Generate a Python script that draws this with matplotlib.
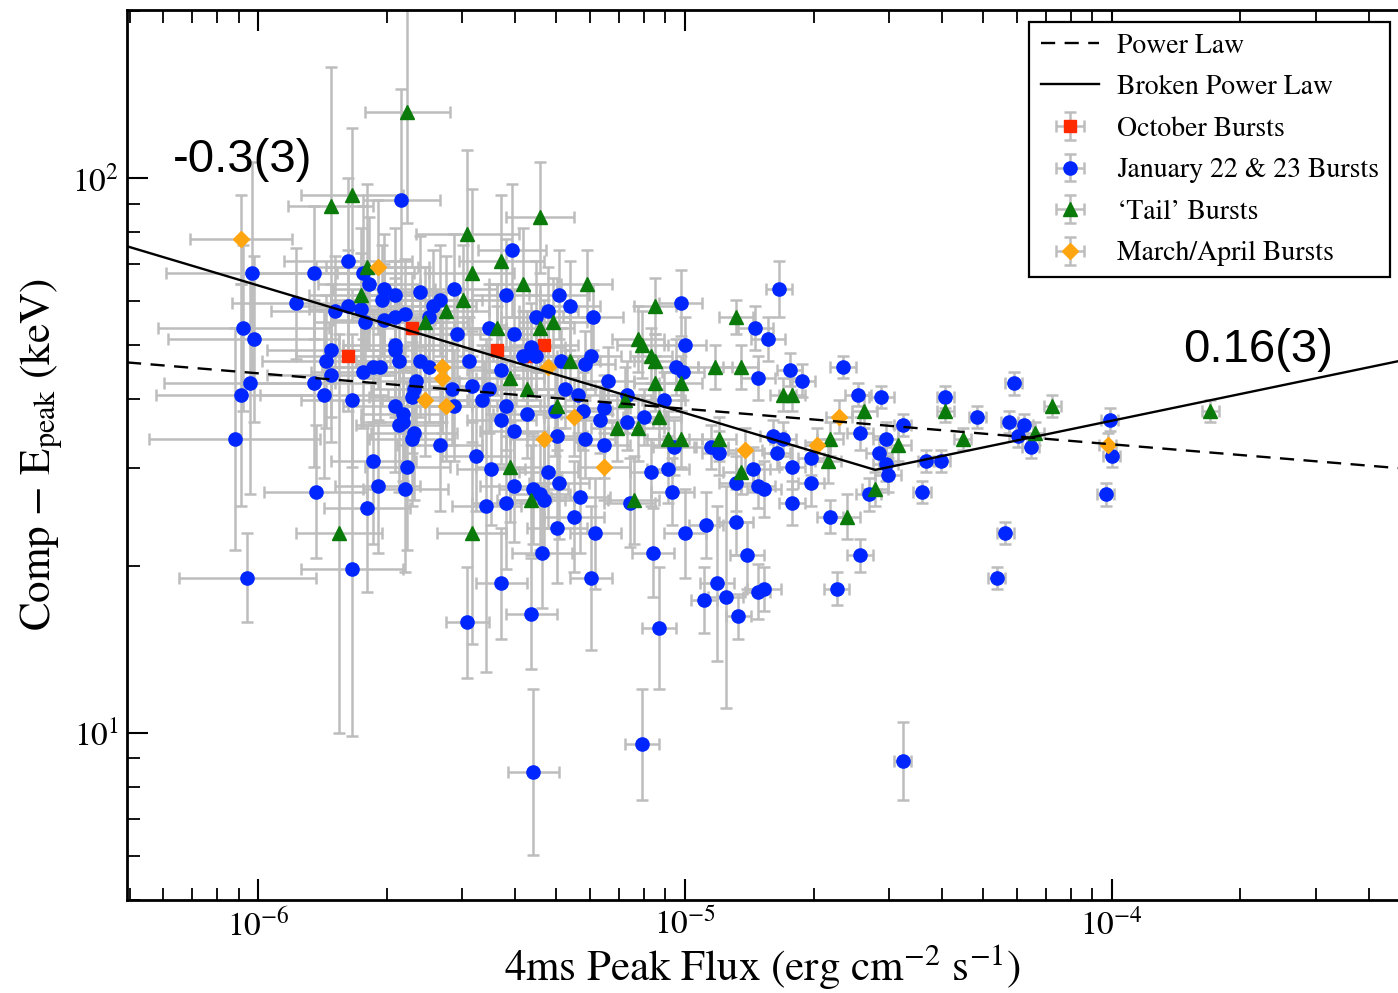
import numpy as np
import matplotlib.pyplot as plt
from matplotlib.ticker import LogLocator, NullFormatter

plt.rcParams['font.family'] = ['STIXGeneral', 'DejaVu Serif']
plt.rcParams['mathtext.fontset'] = 'stix'

# log10 of 4ms peak flux (erg cm^-2 s^-1), log10 of Comp Epeak (keV), errors in dex
oct_logf = [-5.64, -5.79, -5.44, -5.33, -5.37]
oct_logE = [1.73, 1.68, 1.69, 1.70, 1.68]
oct_df = [0.10, 0.12, 0.08, 0.08, 0.08]
oct_dE = [0.10, 0.10, 0.08, 0.08, 0.08]

jan_logf = [
    -5.665, -5.405, -6.015, -5.79, -5.87, -5.74, -5.705, -5.91, -5.71, -5.68,
    -5.62, -5.54, -5.42, -5.295, -5.27, -5.215, -5.01, -4.78, -5.35, -5.32,
    -4.835, -5.00, -4.805, -5.755, -5.82, -5.79, -5.76, -5.59, -5.575, -5.75,
    -5.705, -5.68, -5.655, -5.60, -5.535, -5.46, -5.40, -5.38, -5.36, -5.35,
    -6.035, -6.01, -5.68, -5.68, -5.83, -5.73, -5.715, -5.67, -5.62, -5.60,
    -5.505, -5.29, -5.84, -5.83, -5.755, -6.02, -6.04, -5.87, -5.845, -5.78,
    -5.68, -5.635, -5.63, -5.64, -5.54, -5.50, -5.475, -5.46, -5.42, -5.37,
    -5.305, -5.545, -5.22, -5.235, -5.18, -5.28, -5.25, -5.135, -5.43, -5.43,
    -5.02, -5.005, -4.83, -5.05, -5.19, -5.24, -5.20, -5.66, -5.66, -5.635,
    -5.575, -5.40, -6.055, -5.67, -5.64, -5.49, -5.095, -5.135, -5.025, -4.94,
    -4.92, -4.795, -4.785, -5.19, -5.235, -5.30, -4.725, -4.755, -4.63, -4.595,
    -4.54, -4.39, -4.23, -4.315, -4.24, -4.205, -4.22, -4.19, -4.005, -4.00,
    -4.49, -4.53, -4.59, -4.545, -4.53, -4.525, -4.435, -4.40, -4.445, -4.57,
    -4.705, -4.77, -4.75, -4.705, -4.75, -4.66, -4.815, -4.815, -4.645, -4.59,
    -4.25, -4.27, -4.015, -4.84, -4.88, -4.83, -5.08, -5.04, -5.03, -5.13,
    -5.455, -5.40, -5.355, -5.33, -5.465, -5.42, -5.32, -5.295, -5.245, -5.26,
    -5.30, -5.21, -5.335, -5.075, -5.00, -4.95, -4.88, -4.855, -5.22, -4.925,
    -4.83, -4.955, -4.905, -4.875, -5.43, -5.51, -5.36, -5.06, -5.10, -5.355,
    -4.49, -6.025, -5.78, -5.865, -5.745, -5.73, -5.72, -5.655, -5.65, -5.34,
]
jan_logE = [
    1.96, 1.87, 1.83, 1.85, 1.83, 1.81, 1.80, 1.775, 1.78, 1.79,
    1.795, 1.80, 1.79, 1.79, 1.77, 1.75, 1.775, 1.80, 1.75, 1.76,
    1.73, 1.70, 1.71, 1.83, 1.76, 1.77, 1.765, 1.77, 1.78, 1.74,
    1.745, 1.75, 1.755, 1.75, 1.72, 1.73, 1.72, 1.68, 1.695, 1.68,
    1.73, 1.71, 1.70, 1.69, 1.69, 1.66, 1.66, 1.67, 1.67, 1.66,
    1.67, 1.67, 1.67, 1.645, 1.65, 1.63, 1.61, 1.63, 1.61, 1.60,
    1.59, 1.62, 1.635, 1.605, 1.59, 1.625, 1.60, 1.62, 1.59, 1.575,
    1.58, 1.62, 1.68, 1.665, 1.635, 1.62, 1.61, 1.61, 1.655, 1.565,
    1.66, 1.65, 1.64, 1.60, 1.585, 1.58, 1.565, 1.575, 1.56, 1.54,
    1.52, 1.545, 1.53, 1.555, 1.53, 1.50, 1.57, 1.56, 1.515, 1.515,
    1.505, 1.535, 1.505, 1.52, 1.53, 1.535, 1.635, 1.655, 1.66, 1.61,
    1.605, 1.605, 1.63, 1.57, 1.56, 1.555, 1.535, 1.515, 1.565, 1.50,
    1.555, 1.53, 1.54, 1.505, 1.485, 1.465, 1.49, 1.49, 1.435, 1.43,
    1.495, 1.53, 1.48, 1.45, 1.415, 1.39, 1.44, 1.26, 1.26, 1.32,
    1.36, 1.28, 1.43, 1.475, 1.45, 1.445, 1.47, 1.475, 1.435, 1.415,
    1.475, 1.445, 1.44, 1.42, 1.41, 1.415, 1.47, 1.45, 1.425, 1.39,
    1.37, 1.36, 1.325, 1.325, 1.36, 1.375, 1.38, 1.32, 1.28, 1.27,
    1.255, 1.24, 1.245, 1.21, 1.27, 1.20, 1.215, 1.19, 0.98, 0.93,
    0.95, 1.28, 1.295, 1.435, 1.405, 1.49, 1.445, 1.44, 1.48, 1.43,
]
jan_df = [
    0.09, 0.08, 0.20, 0.15, 0.15, 0.12, 0.12, 0.15, 0.12, 0.10,
    0.10, 0.10, 0.08, 0.07, 0.07, 0.07, 0.05, 0.03, 0.08, 0.07,
    0.04, 0.05, 0.04, 0.12, 0.15, 0.12, 0.12, 0.10, 0.10, 0.12,
    0.12, 0.10, 0.10, 0.10, 0.10, 0.08, 0.08, 0.08, 0.08, 0.08,
    0.20, 0.20, 0.12, 0.12, 0.15, 0.12, 0.12, 0.10, 0.10, 0.10,
    0.10, 0.07, 0.15, 0.15, 0.12, 0.20, 0.20, 0.15, 0.15, 0.12,
    0.12, 0.10, 0.10, 0.10, 0.10, 0.10, 0.08, 0.08, 0.08, 0.08,
    0.07, 0.10, 0.07, 0.07, 0.06, 0.07, 0.07, 0.06, 0.08, 0.08,
    0.05, 0.05, 0.04, 0.05, 0.06, 0.07, 0.06, 0.10, 0.10, 0.10,
    0.10, 0.08, 0.20, 0.10, 0.10, 0.08, 0.05, 0.06, 0.05, 0.04,
    0.04, 0.03, 0.03, 0.06, 0.07, 0.07, 0.03, 0.03, 0.03, 0.03,
    0.03, 0.02, 0.02, 0.02, 0.02, 0.02, 0.02, 0.02, 0.02, 0.02,
    0.02, 0.03, 0.03, 0.03, 0.03, 0.03, 0.02, 0.02, 0.02, 0.03,
    0.03, 0.03, 0.03, 0.03, 0.03, 0.03, 0.04, 0.04, 0.03, 0.03,
    0.02, 0.02, 0.02, 0.04, 0.04, 0.04, 0.05, 0.05, 0.05, 0.06,
    0.08, 0.08, 0.08, 0.07, 0.08, 0.08, 0.07, 0.07, 0.07, 0.07,
    0.07, 0.06, 0.07, 0.05, 0.05, 0.04, 0.04, 0.04, 0.05, 0.04,
    0.03, 0.03, 0.04, 0.03, 0.06, 0.05, 0.06, 0.04, 0.04, 0.06,
    0.02, 0.16, 0.12, 0.12, 0.10, 0.10, 0.10, 0.10, 0.10, 0.07,
]
jan_dE = [
    0.20, 0.12, 0.20, 0.15, 0.12, 0.12, 0.10, 0.10, 0.10, 0.12,
    0.10, 0.10, 0.10, 0.08, 0.08, 0.06, 0.06, 0.05, 0.10, 0.08,
    0.04, 0.05, 0.04, 0.12, 0.10, 0.10, 0.10, 0.10, 0.10, 0.10,
    0.10, 0.10, 0.10, 0.08, 0.08, 0.08, 0.08, 0.08, 0.08, 0.08,
    0.15, 0.15, 0.12, 0.12, 0.12, 0.10, 0.10, 0.10, 0.10, 0.10,
    0.08, 0.06, 0.12, 0.12, 0.10, 0.20, 0.20, 0.15, 0.15, 0.12,
    0.12, 0.10, 0.10, 0.10, 0.10, 0.10, 0.10, 0.08, 0.08, 0.08,
    0.08, 0.10, 0.06, 0.06, 0.06, 0.07, 0.07, 0.06, 0.08, 0.08,
    0.05, 0.05, 0.04, 0.05, 0.06, 0.07, 0.06, 0.12, 0.12, 0.12,
    0.12, 0.10, 0.20, 0.12, 0.12, 0.10, 0.05, 0.05, 0.05, 0.04,
    0.04, 0.03, 0.03, 0.06, 0.07, 0.07, 0.03, 0.03, 0.02, 0.02,
    0.02, 0.02, 0.02, 0.02, 0.02, 0.02, 0.02, 0.02, 0.02, 0.02,
    0.02, 0.03, 0.03, 0.03, 0.03, 0.03, 0.02, 0.02, 0.02, 0.03,
    0.03, 0.03, 0.04, 0.04, 0.04, 0.03, 0.05, 0.04, 0.03, 0.03,
    0.02, 0.02, 0.02, 0.04, 0.05, 0.04, 0.06, 0.06, 0.06, 0.08,
    0.10, 0.10, 0.10, 0.10, 0.30, 0.12, 0.10, 0.10, 0.10, 0.10,
    0.10, 0.10, 0.10, 0.08, 0.08, 0.06, 0.06, 0.06, 0.13, 0.14,
    0.05, 0.06, 0.20, 0.04, 0.10, 0.10, 0.10, 0.11, 0.10, 0.15,
    0.07, 0.08, 0.30, 0.12, 0.15, 0.15, 0.12, 0.15, 0.15, 0.10,
]

tail_logf = [
    -5.65, -5.78, -5.83, -5.51, -5.34, -5.43, -5.38, -5.50, -5.745, -5.76,
    -5.52, -5.56, -5.61, -5.44, -5.34, -5.31, -5.41, -5.37, -5.27, -5.30,
    -5.23, -5.07, -4.88, -5.11, -5.10, -5.08, -5.07, -4.93, -4.87, -5.01,
    -5.07, -5.06, -5.16, -5.11, -5.04, -5.01, -4.92, -4.87, -5.14, -5.41,
    -5.36, -5.12, -5.81, -5.50, -4.77, -4.75, -4.39, -4.14, -4.18, -4.35,
    -3.77, -4.555, -4.50, -4.58, -4.66, -4.665, -4.62,
]
tail_logE = [
    2.12, 1.97, 1.95, 1.90, 1.93, 1.85, 1.81, 1.83, 1.84, 1.79,
    1.78, 1.76, 1.74, 1.73, 1.73, 1.74, 1.64, 1.62, 1.67, 1.59,
    1.81, 1.77, 1.75, 1.71, 1.70, 1.68, 1.67, 1.66, 1.66, 1.63,
    1.63, 1.57, 1.55, 1.55, 1.53, 1.53, 1.53, 1.47, 1.60, 1.48,
    1.42, 1.42, 1.36, 1.36, 1.61, 1.61, 1.58, 1.59, 1.54, 1.53,
    1.58, 1.44, 1.52, 1.58, 1.53, 1.49, 1.39,
]
tail_df = [
    0.10, 0.12, 0.10, 0.12, 0.08, 0.10, 0.08, 0.10, 0.12, 0.12,
    0.10, 0.10, 0.10, 0.08, 0.08, 0.08, 0.08, 0.08, 0.07, 0.07,
    0.06, 0.05, 0.04, 0.06, 0.06, 0.05, 0.05, 0.04, 0.04, 0.05,
    0.05, 0.05, 0.06, 0.06, 0.05, 0.05, 0.04, 0.04, 0.06, 0.08,
    0.08, 0.06, 0.10, 0.08, 0.03, 0.03, 0.02, 0.02, 0.02, 0.02,
    0.02, 0.03, 0.03, 0.03, 0.03, 0.03, 0.03,
]
tail_dE = [
    0.20, 0.12, 0.25, 0.15, 0.10, 0.12, 0.10, 0.15, 0.15, 0.12,
    0.10, 0.10, 0.10, 0.08, 0.08, 0.08, 0.08, 0.08, 0.07, 0.08,
    0.06, 0.05, 0.03, 0.06, 0.06, 0.05, 0.05, 0.04, 0.04, 0.05,
    0.05, 0.05, 0.06, 0.06, 0.05, 0.05, 0.04, 0.04, 0.06, 0.10,
    0.10, 0.08, 0.36, 0.20, 0.03, 0.03, 0.02, 0.02, 0.02, 0.02,
    0.02, 0.03, 0.03, 0.03, 0.03, 0.04, 0.04,
]

mar_logf = [-6.04, -5.72, -5.57, -5.57, -5.61, -5.56, -5.32, -5.33, -5.26, -5.19,
            -4.86, -4.69, -4.64, -4.01]
mar_logE = [1.89, 1.84, 1.66, 1.64, 1.60, 1.59, 1.66, 1.53, 1.57, 1.48,
            1.51, 1.52, 1.57, 1.52]
mar_df = [0.12, 0.12, 0.10, 0.10, 0.10, 0.10, 0.08, 0.08, 0.07, 0.06,
          0.04, 0.03, 0.03, 0.02]
mar_dE = [0.08, 0.12, 0.10, 0.10, 0.10, 0.10, 0.08, 0.08, 0.07, 0.06,
          0.04, 0.03, 0.03, 0.02]

# fits: power law and broken power law
pl_amp, pl_pivot, pl_index = 38.4, 1e-5, -0.064
bpl_fbreak, bpl_ebreak, bpl_index1, bpl_index2 = 2.79e-5, 29.8, -0.23, 0.16

xmin, xmax = 10**-6.307, 10**-3.33
ymin, ymax = 5.0, 201.0


def errs(logv, dlog):
    logv = np.array(logv)
    dlog = np.array(dlog)
    v = 10**logv
    return v, [v - 10**(logv - dlog), 10**(logv + dlog) - v]


fig = plt.figure(figsize=(13.98, 9.93), dpi=100)
ax = fig.add_axes([127/1398, 1 - 900/993, 1 - 127/1398, 890/993])
ax.set_xscale('log')
ax.set_yscale('log')

groups = [
    (oct_logf, oct_logE, oct_df, oct_dE, 's', '#ff2a00', 8, 'October Bursts'),
    (jan_logf, jan_logE, jan_df, jan_dE, 'o', '#0026ff', 9.5, 'January 22 & 23 Bursts'),
    (tail_logf, tail_logE, tail_df, tail_dE, '^', '#0a7a0a', 10, "‘Tail’ Bursts"),
    (mar_logf, mar_logE, mar_df, mar_dE, 'D', '#ffa510', 8, 'March/April Bursts'),
]
handles = []
for lf, lE, df, dE, mk, col, ms, lab in groups:
    x, xe = errs(lf, df)
    y, ye = errs(lE, dE)
    h = ax.errorbar(x, y, xerr=xe, yerr=ye, fmt=mk, color=col, mec=col, ms=ms,
                    ecolor='#bdbdbd', elinewidth=1.8, capsize=4, capthick=1.8,
                    label=lab)
    handles.append(h)

fx = np.logspace(np.log10(xmin), np.log10(xmax), 300)
pl = pl_amp * (fx / pl_pivot)**pl_index
bpl = np.where(fx < bpl_fbreak,
               bpl_ebreak * (fx / bpl_fbreak)**bpl_index1,
               bpl_ebreak * (fx / bpl_fbreak)**bpl_index2)
l1, = ax.plot(fx, pl, ls=(0, (6, 4)), color='black', lw=1.7, zorder=5, label='Power Law')
l2, = ax.plot(fx, bpl, ls='-', color='black', lw=1.7, zorder=5, label='Broken Power Law')

ax.set_xlim(xmin, xmax)
ax.set_ylim(ymin, ymax)

ax.text(6.32e-7, 108, '-0.3(3)', family=['Liberation Sans', 'DejaVu Sans'],
        fontsize=34, va='center', ha='left')
ax.text(1.47e-4, 49, '0.16(3)', family=['Liberation Sans', 'DejaVu Sans'],
        fontsize=34, va='center', ha='left')

ax.yaxis.set_minor_formatter(NullFormatter())
ax.xaxis.set_minor_formatter(NullFormatter())
ax.xaxis.set_minor_locator(LogLocator(subs=np.arange(2, 10), numticks=20))
ax.yaxis.set_minor_locator(LogLocator(subs=np.arange(2, 10), numticks=20))
ax.tick_params(which='both', direction='in', top=True, right=False, labelsize=24)
ax.tick_params(which='major', length=15, width=1.5, pad=6)
ax.tick_params(which='minor', length=9, width=1.3)
for s in ['left', 'bottom', 'top']:
    ax.spines[s].set_linewidth(2)
ax.spines['right'].set_visible(False)

ax.set_xlabel(r'4ms Peak Flux (erg cm$^{-2}$ s$^{-1}$)', fontsize=31, labelpad=0)
ax.set_ylabel(r'Comp $-$ E$_{\rm peak}$ (keV)', fontsize=31, labelpad=4)

leg = ax.legend([l1, l2] + handles,
                ['Power Law', 'Broken Power Law'] + [g[-1] for g in groups],
                loc='upper left', bbox_to_anchor=(0.71, 0.9865), borderaxespad=0,
                fontsize=20, fancybox=False, framealpha=1, edgecolor='black',
                handlelength=2.1, labelspacing=0.58, handletextpad=0.65, borderpad=0.4)
leg.get_frame().set_linewidth(1.6)

plt.savefig('out.png', dpi=100)
